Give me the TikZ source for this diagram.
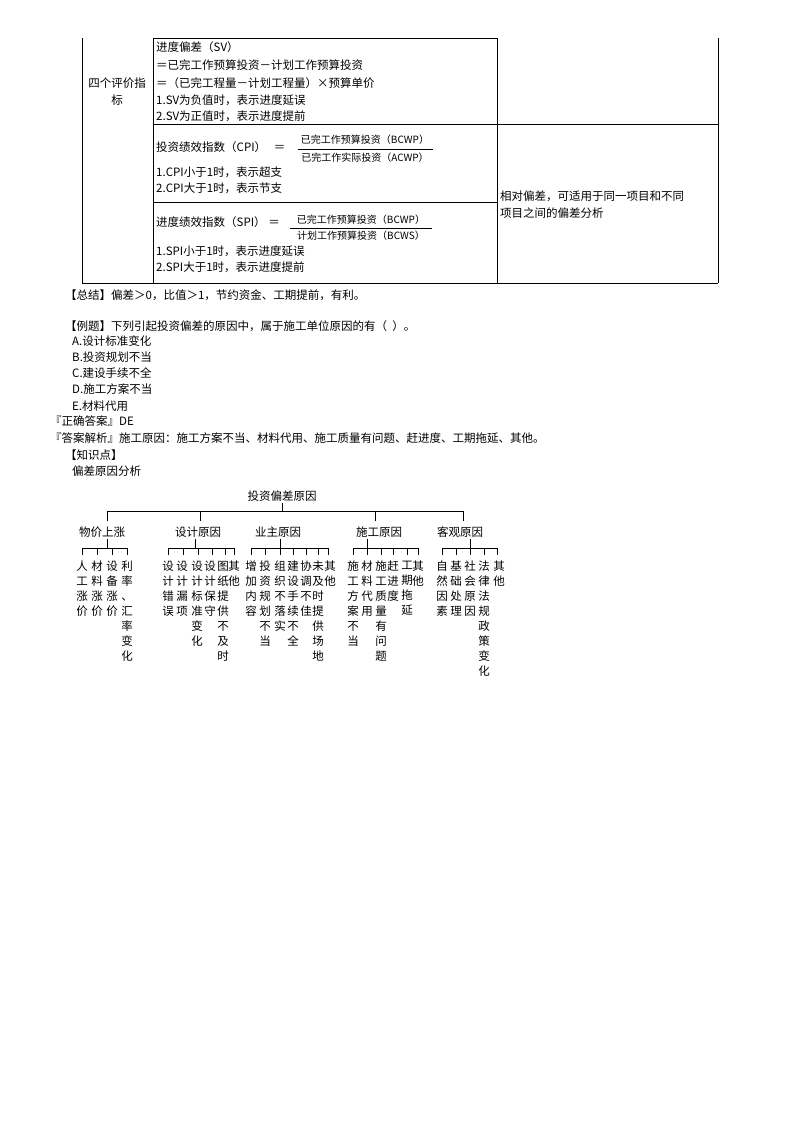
\documentclass[tikz,border=0pt]{standalone}
\usepackage{fontspec}
\setmainfont{Liberation Serif}
\newfontfamily\cjk{Noto Sans CJK SC}
\begin{document}
\begin{tikzpicture}[x=1pt,y=-1pt,
  tx/.style={anchor=west,inner sep=0pt,font=\fontsize{11.5}{13}\selectfont\cjk},
  fr/.style={inner sep=0pt,font=\fontsize{10}{11}\selectfont\cjk},
  tr/.style={inner sep=0pt,font=\fontsize{11.5}{13}\selectfont\cjk},
  lf/.style={anchor=north,inner sep=0pt,align=center,font=\fontsize{11.5}{15}\selectfont\cjk},
  ln/.style={line width=0.8pt}]
\useasboundingbox[fill=white] (0,0) rectangle (800,1132);
% table
\draw[ln] (82,38) -- (82,283) (153,38) -- (153,283) (497,38) -- (497,283) (718,38) -- (718,283);
\draw[ln] (153,38) -- (497,38) (153,124) -- (718,124) (153,202) -- (497,202) (82,283) -- (718,283);
\node[tr] (l1) at (117,83) {四个评价指};
\node[tr] (l2) at (117,100) {标};
\node[tx] (a1) at (156,47) {进度偏差（SV）};
\node[tx] (a2) at (156,65) {＝已完工作预算投资－计划工作预算投资};
\node[tx] (a3) at (156,83) {＝（已完工程量－计划工程量）×预算单价};
\node[tx] (a4) at (156,100) {1.SV为负值时，表示进度延误};
\node[tx] (a5) at (156,116) {2.SV为正值时，表示进度提前};
\node[tx] (b1) at (156,147) {投资绩效指数（CPI）\ \ \ ＝};
\node[fr] (b1n) at (365,140) {已完工作预算投资（BCWP）};
\node[fr] (b1d) at (365,158) {已完工作实际投资（ACWP）};
\draw (298,149) -- (433,149);
\node[tx] (b2) at (156,172) {1.CPI小于1时，表示超支};
\node[tx] (b3) at (156,188) {2.CPI大于1时，表示节支};
\node[tx] (c1) at (156,222) {进度绩效指数（SPI）\ ＝};
\node[fr] (c1n) at (361,220) {已完工作预算投资（BCWP）};
\node[fr] (c1d) at (361,236) {计划工作预算投资（BCWS）};
\draw (290,228) -- (432,228);
\node[tx] (c2) at (156,251) {1.SPI小于1时，表示进度延误};
\node[tx] (c3) at (156,267) {2.SPI大于1时，表示进度提前};
\node[tx] (r1) at (500,196) {相对偏差，可适用于同一项目和不同};
\node[tx] (r2) at (500,213) {项目之间的偏差分析};
% text
\node[tx] (s) at (65,295) {【总结】偏差＞0，比值＞1，节约资金、工期提前，有利。};
\node[tx] (q) at (65,326) {【例题】下列引起投资偏差的原因中，属于施工单位原因的有（\ \ ）。};
\node[tx] (qa) at (72,341) {A.设计标准变化};
\node[tx] (qb) at (72,357) {B.投资规划不当};
\node[tx] (qc) at (72,373) {C.建设手续不全};
\node[tx] (qd) at (72,389) {D.施工方案不当};
\node[tx] (qe) at (72,406) {E.材料代用};
\node[tx] (an) at (50,421) {『正确答案』DE};
\node[tx] (ex) at (50,438) {『答案解析』施工原因：施工方案不当、材料代用、施工质量有问题、赶进度、工期拖延、其他。};
\node[tx] (kp) at (65,455) {【知识点】};
\node[tx] (kt) at (72,471) {偏差原因分析};
% tree
\node[tr] (root) at (282,496) {投资偏差原因};
\draw (282,503) -- (282,511);
\draw (107,521) -- (107,511) -- (463,511) -- (463,521);
\foreach \x in {200,375} \draw (\x,511) -- (\x,521);
\node[tr] (k1) at (102,532) {物价上涨};
\node[tr] (k2) at (198,532) {设计原因};
\node[tr] (k3) at (278,532) {业主原因};
\node[tr] (k4) at (379,532) {施工原因};
\node[tr] (k5) at (460,532) {客观原因};
\draw (107,539) -- (107,548) (82,555) -- (82,548) -- (127,548) -- (127,555);
\foreach \x in {97,112} \draw (\x,548) -- (\x,555);
\draw (195,539) -- (195,548) (168,555) -- (168,548) -- (234,548) -- (234,555);
\foreach \x in {183,198,212,225} \draw (\x,548) -- (\x,555);
\draw (280,539) -- (280,548) (251,555) -- (251,548) -- (328,548) -- (328,555);
\foreach \x in {265,280,293,306,318} \draw (\x,548) -- (\x,555);
\draw (367,539) -- (367,548) (353,555) -- (353,548) -- (418,548) -- (418,555);
\foreach \x in {367,381,393,407} \draw (\x,548) -- (\x,555);
\draw (470,539) -- (470,548) (442,555) -- (442,548) -- (497,548) -- (497,555);
\foreach \x in {456,470,484} \draw (\x,548) -- (\x,555);
% leaves
\node[lf] (n11) at (82,561) {人\\工\\涨\\价};
\node[lf] (n12) at (97,561) {材\\料\\涨\\价};
\node[lf] (n13) at (112,561) {设\\备\\涨\\价};
\node[lf] (n14) at (127,561) {利\\率\\、\\汇\\率\\变\\化};
\node[lf] (n21) at (168,561) {设\\计\\错\\误};
\node[lf] (n22) at (182,561) {设\\计\\漏\\项};
\node[lf] (n23) at (197,561) {设\\计\\标\\准\\变\\化};
\node[lf] (n24) at (210,561) {设\\计\\保\\守};
\node[lf] (n25) at (223,561) {图\\纸\\提\\供\\不\\及\\时};
\node[lf] (n26) at (234,561) {其\\他};
\node[lf] (n31) at (251,561) {增\\加\\内\\容};
\node[lf] (n32) at (265,561) {投\\资\\规\\划\\不\\当};
\node[lf] (n33) at (280,561) {组\\织\\不\\落\\实};
\node[lf] (n34) at (293,561) {建\\设\\手\\续\\不\\全};
\node[lf] (n35) at (306,561) {协\\调\\不\\佳};
\node[lf] (n36) at (318,561) {未\\及\\时\\提\\供\\场\\地};
\node[lf] (n37) at (330,561) {其\\他};
\node[lf] (n41) at (353,561) {施\\工\\方\\案\\不\\当};
\node[lf] (n42) at (367,561) {材\\料\\代\\用};
\node[lf] (n43) at (381,561) {施\\工\\质\\量\\有\\问\\题};
\node[lf] (n44) at (393,561) {赶\\进\\度};
\node[lf] (n45) at (407,561) {工\\期\\拖\\延};
\node[lf] (n46) at (418,561) {其\\他};
\node[lf] (n51) at (442,561) {自\\然\\因\\素};
\node[lf] (n52) at (456,561) {基\\础\\处\\理};
\node[lf] (n53) at (470,561) {社\\会\\原\\因};
\node[lf] (n54) at (484,561) {法\\律\\法\\规\\政\\策\\变\\化};
\node[lf] (n55) at (499,561) {其\\他};
\end{tikzpicture}
\end{document}
